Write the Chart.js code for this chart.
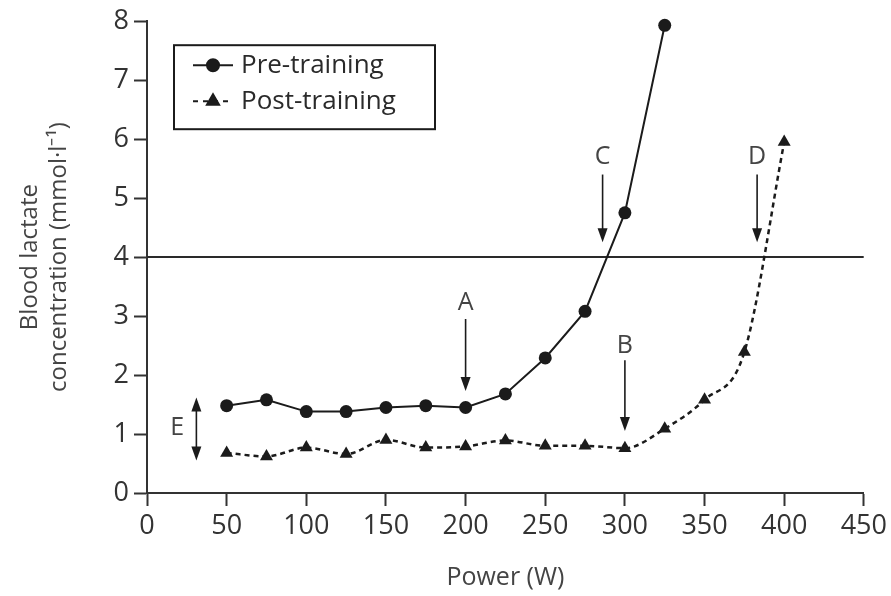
<!DOCTYPE html>
<html>
<head>
<meta charset="utf-8">
<script src="https://cdn.jsdelivr.net/npm/chart.js@4/dist/chart.umd.min.js"></script>
<style>
  html, body { margin: 0; padding: 0; background: #fff; }
  #wrap { width: 891px; height: 596px; }
</style>
</head>
<body>
<div id="wrap"><canvas id="myChart"></canvas></div>
<script>
// power steps (W)
const prePower = [50, 75, 100, 125, 150, 175, 200, 225, 250, 275, 300, 325];
const postPower = [50, 75, 100, 125, 150, 175, 200, 225, 250, 275, 300, 325, 350, 375, 400];

// blood lactate (mmol/l)
const preTraining = [1.48, 1.58, 1.38, 1.38, 1.45, 1.48, 1.45, 1.68, 2.29, 3.08, 4.75, 7.93];
const postTraining = [0.68, 0.62, 0.77, 0.66, 0.9, 0.77, 0.79, 0.89, 0.8, 0.8, 0.76, 1.09, 1.58, 2.39, 5.95];

// 4 mmol reference line
const thresholdX = [0, 450];
const thresholdY = [4, 4];

// arrows: letter, power, arrow top, arrow tip, letter height
const arrowLabels = ['A', 'B', 'C', 'D'];
const arrowX = [200, 300, 286, 383];
const arrowFrom = [2.95, 2.25, 5.4, 5.4];
const arrowTo = [1.73, 1.05, 4.25, 4.25];
const arrowLabelY = [3.22, 2.5, 5.7, 5.7];

// double arrow E
const eX = 31;
const eRange = [0.55, 1.62];
const eLabelX = 19;
const eLabelY = 1.1;

const ink = '#1b1b1b';
const grey = '#444';
const font = 'Open Sans';

function toPoints(xs, ys) {
  return xs.map((x, i) => ({ x: x, y: ys[i] }));
}

function arrowHead(ctx, x, y, dir) {
  // dir 1 = pointing down, -1 = pointing up
  ctx.beginPath();
  ctx.moveTo(x, y);
  ctx.lineTo(x - 5, y - 14 * dir);
  ctx.lineTo(x + 5, y - 14 * dir);
  ctx.closePath();
  ctx.fill();
}

const annotations = {
  id: 'annotations',
  afterDatasetsDraw(chart) {
    const { ctx, scales: { x, y } } = chart;
    ctx.save();
    ctx.strokeStyle = ink;
    ctx.fillStyle = ink;
    ctx.lineWidth = 1.6;
    arrowLabels.forEach((lab, i) => {
      const px = x.getPixelForValue(arrowX[i]);
      const top = y.getPixelForValue(arrowFrom[i]);
      const tip = y.getPixelForValue(arrowTo[i]);
      ctx.beginPath();
      ctx.moveTo(px, top);
      ctx.lineTo(px, tip - 10);
      ctx.stroke();
      arrowHead(ctx, px, tip, 1);
    });
    // E double arrow
    const ex = x.getPixelForValue(eX);
    const eTop = y.getPixelForValue(eRange[1]);
    const eBot = y.getPixelForValue(eRange[0]);
    ctx.beginPath();
    ctx.moveTo(ex, eTop + 10);
    ctx.lineTo(ex, eBot - 10);
    ctx.stroke();
    arrowHead(ctx, ex, eTop, -1);
    arrowHead(ctx, ex, eBot, 1);

    ctx.fillStyle = grey;
    ctx.font = '25px "' + font + '"';
    ctx.textAlign = 'center';
    ctx.textBaseline = 'middle';
    arrowLabels.forEach((lab, i) => {
      ctx.fillText(lab, x.getPixelForValue(arrowX[i]), y.getPixelForValue(arrowLabelY[i]));
    });
    ctx.fillText('E', x.getPixelForValue(eLabelX), y.getPixelForValue(eLabelY));
    ctx.restore();
  }
};

// boxed legend in the upper left of the plot
const boxLegend = {
  id: 'boxLegend',
  afterDraw(chart) {
    const { ctx, chartArea } = chart;
    const left = chartArea.left + 27;
    const top = chartArea.top + 24;
    const w = 261, h = 84;
    ctx.save();
    ctx.strokeStyle = ink;
    ctx.lineWidth = 2;
    ctx.strokeRect(left, top, w, h);
    const rows = [
      { text: 'Pre-training', dash: [], style: 'circle', r: 6 },
      { text: 'Post-training', dash: [5, 5], style: 'triangle', r: 7 }
    ];
    rows.forEach((row, i) => {
      const cy = top + 20 + i * 36;
      ctx.strokeStyle = ink;
      ctx.fillStyle = ink;
      ctx.lineWidth = 2;
      ctx.setLineDash(row.dash);
      ctx.beginPath();
      ctx.moveTo(left + 19, cy);
      ctx.lineTo(left + 59, cy);
      ctx.stroke();
      ctx.setLineDash([]);
      Chart.helpers.drawPoint(ctx, { pointStyle: row.style, radius: row.r, borderWidth: 1 }, left + 39, cy);
      ctx.fill();
      ctx.fillStyle = '#2a2a2a';
      ctx.font = '26px "' + font + '"';
      ctx.textAlign = 'left';
      ctx.textBaseline = 'middle';
      ctx.fillText(row.text, left + 67, cy);
    });
    ctx.restore();
  }
};

const ctx = document.getElementById('myChart');
new Chart(ctx, {
  type: 'line',
  data: {
    datasets: [{
      label: 'Pre-training',
      data: toPoints(prePower, preTraining),
      borderColor: ink,
      backgroundColor: ink,
      borderWidth: 2,
      pointStyle: 'circle',
      pointRadius: 6.5,
      pointBorderWidth: 0,
      tension: 0,
      clip: false
    }, {
      label: 'Post-training',
      data: toPoints(postPower, postTraining),
      borderColor: ink,
      backgroundColor: ink,
      borderWidth: 2.5,
      borderDash: [5, 4],
      pointStyle: 'triangle',
      pointRadius: 7.5,
      pointBorderWidth: 0,
      cubicInterpolationMode: 'monotone',
      clip: false
    }, {
      label: '4 mmol',
      data: toPoints(thresholdX, thresholdY),
      borderColor: '#2a2a2a',
      borderWidth: 2,
      pointRadius: 0
    }]
  },
  options: {
    responsive: true,
    maintainAspectRatio: false,
    animation: false,
    layout: { padding: { top: 18, right: 27, left: 0, bottom: 0 } },
    plugins: {
      legend: { display: false },
      tooltip: { enabled: false }
    },
    scales: {
      x: {
        type: 'linear',
        min: 0,
        max: 450,
        ticks: { stepSize: 50, color: '#333', padding: 4, font: { family: font, size: 27 } },
        grid: { drawOnChartArea: false, tickLength: 13, tickWidth: 2, tickColor: '#333' },
        border: { color: '#333', width: 2 },
        title: {
          display: true,
          text: 'Power (W)',
          color: grey,
          font: { family: font, size: 25 },
          padding: { top: 0, bottom: 3 }
        },
        afterFit(scale) { scale.height = 103; }
      },
      y: {
        min: 0,
        max: 8,
        ticks: { stepSize: 1, color: '#333', padding: 5, font: { family: font, size: 27 } },
        grid: { drawOnChartArea: false, tickLength: 13, tickWidth: 2, tickColor: '#333' },
        border: { color: '#333', width: 2 },
        title: {
          display: true,
          text: ['Blood lactate', 'concentration (mmol·l⁻¹)'],
          color: grey,
          font: { family: font, size: 24 },
          padding: { top: 16, bottom: 0 }
        },
        afterFit(scale) { scale.width = 147; }
      }
    }
  },
  plugins: [annotations, boxLegend]
});
</script>
</body>
</html>
